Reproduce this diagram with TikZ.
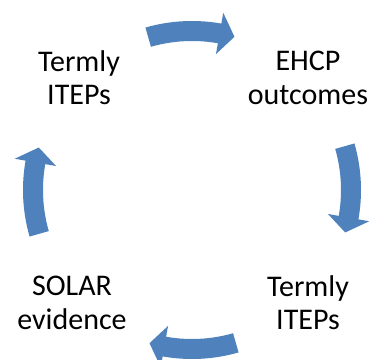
\documentclass[tikz,border=0pt]{standalone}
\usepackage{fontspec}
\setmainfont{Carlito}
\usepackage{tikz}

\definecolor{cyclblue}{RGB}{79,129,189}

\tikzset{
  cycltext/.style={inner sep=0pt, align=center, font=\fontsize{22.5}{25}\selectfont},
  cyclarrow/.style={fill=cyclblue, draw=none}
}

\begin{document}
\begin{tikzpicture}[x=0.75pt,y=0.75pt,yscale=-1,xscale=1]
\useasboundingbox (0,0) rectangle (369,360);
\coordinate (hub) at (192,190);

\begin{scope}[shift={(hub)}]
%Shape: Circular Arrow, top
\fill[cyclarrow] (254:169) arc[start angle=254, end angle=280, radius=169] -- (280:180) -- (285.5:159) -- (280:138) -- (280:149) arc[start angle=280, end angle=254, radius=149] -- cycle;
%Shape: Circular Arrow, right
\fill[cyclarrow] (-16:169) arc[start angle=-16, end angle=10, radius=169] -- (10:180) -- (15.5:159) -- (10:138) -- (10:149) arc[start angle=10, end angle=-16, radius=149] -- cycle;
%Shape: Circular Arrow, bottom
\fill[cyclarrow] (74:169) arc[start angle=74, end angle=100, radius=169] -- (100:180) -- (105.5:159) -- (100:138) -- (100:149) arc[start angle=100, end angle=74, radius=149] -- cycle;
%Shape: Circular Arrow, left
\fill[cyclarrow] (164:169) arc[start angle=164, end angle=190, radius=169] -- (190:180) -- (195.5:159) -- (190:138) -- (190:149) arc[start angle=190, end angle=164, radius=149] -- cycle;
\end{scope}

% Text Node
\node[cycltext] (itepsA) at (79,78) {Termly\\ITEPs};
% Text Node
\node[cycltext] (ehcp) at (308,78) {EHCP\\outcomes};
% Text Node
\node[cycltext] (itepsB) at (308,303) {Termly\\ITEPs};
% Text Node
\node[cycltext] (solar) at (72,303) {SOLAR\\evidence};
\end{tikzpicture}
\end{document}
